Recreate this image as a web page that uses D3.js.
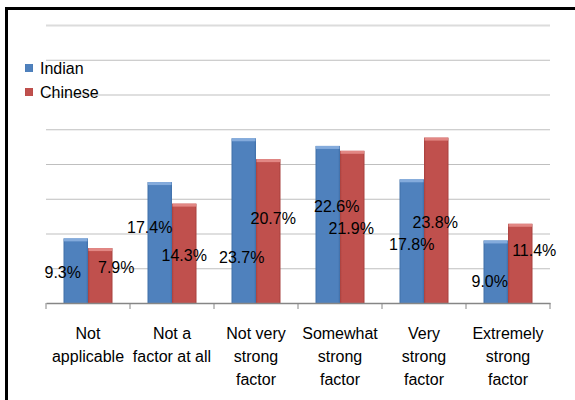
<!DOCTYPE html>
<html>
<head>
<meta charset="utf-8">
<script src="https://cdn.jsdelivr.net/npm/d3@7/dist/d3.min.js"></script>
<style>
  html, body { margin: 0; padding: 0; background: #fff; }
  svg { display: block; }
  text { font-family: "Liberation Sans", Arial, sans-serif; fill: #000; }
</style>
</head>
<body>
<script>
// ---- data ----
const categories = [
  ["Not", "applicable"],
  ["Not a", "factor at all"],
  ["Not very", "strong", "factor"],
  ["Somewhat", "strong", "factor"],
  ["Very", "strong", "factor"],
  ["Extremely", "strong", "factor"]
];
const seriesNames = ["Indian", "Chinese"];
const indianValues = [9.3, 17.4, 23.7, 22.6, 17.8, 9.0];
const chineseValues = [7.9, 14.3, 20.7, 21.9, 23.8, 11.4];
const yTicks = [0, 5, 10, 15, 20, 25, 30, 35, 40];

// ---- layout (label nudges in px, relative to bar centre / bar top) ----
const labelNudge = {
  Indian:  [[-13, 34], [-10, 45], [-2, 119], [9, 60], [0, 65], [-6, 41]],
  Chinese: [[16, 19], [0, 52], [5, 59], [-1, 78], [-1, 85], [14, 27]]
};

const W = 575, H = 400;
const svg = d3.select("body").append("svg").attr("width", W).attr("height", H);

// gradients
const defs = svg.append("defs");
const palette = {
  Indian:  { base: "#4F81BD", dark: "#3F6FA8", light: "#8DB3E2" },
  Chinese: { base: "#C0504D", dark: "#A8403D", light: "#E8908E" }
};
seriesNames.forEach(s => {
  const g = defs.append("linearGradient").attr("id", "g" + s)
    .attr("x1", "0").attr("x2", "1").attr("y1", "0").attr("y2", "0");
  g.append("stop").attr("offset", "0").attr("stop-color", palette[s].dark);
  g.append("stop").attr("offset", "0.08").attr("stop-color", palette[s].base);
  g.append("stop").attr("offset", "0.92").attr("stop-color", palette[s].base);
  g.append("stop").attr("offset", "1").attr("stop-color", palette[s].dark);
});

// frame
svg.append("path")
  .attr("d", `M6.5,${H} V8.5 H${W}`)
  .attr("fill", "none").attr("stroke", "#000").attr("stroke-width", 3);

const plot = { left: 46, right: 550, top: 25, bottom: 303 };

const x0 = d3.scaleBand().domain(d3.range(categories.length))
  .range([plot.left, plot.right]).paddingInner(0).paddingOuter(0);
const groupW = 49;
const x1 = d3.scaleBand().domain(seriesNames)
  .range([(x0.bandwidth() - groupW) / 2, (x0.bandwidth() + groupW) / 2]);
const y = d3.scaleLinear().domain([0, 40]).range([plot.bottom, plot.top]);

// gridlines
const grid = svg.append("g").attr("transform", `translate(${plot.left},0)`)
  .call(d3.axisLeft(y).tickValues(yTicks.slice(1)).tickSize(-(plot.right - plot.left)).tickFormat(""));
grid.select(".domain").remove();
grid.selectAll(".tick line")
  .attr("stroke", d => d === 40 ? "#dcdcdc" : "#bfbfbf")
  .attr("stroke-width", d => d === 40 ? 2 : 1);

// bars
const data = seriesNames.map((s, si) => ({
  name: s, values: si === 0 ? indianValues : chineseValues
}));

data.forEach(series => {
  const g = svg.append("g");
  const bw = x1.bandwidth();
  series.values.forEach((v, i) => {
    const bx = x0(i) + x1(series.name);
    const by = y(v);
    const bh = y(0) - by;
    g.append("rect").attr("x", bx).attr("y", by).attr("width", bw).attr("height", bh)
      .attr("fill", `url(#g${series.name})`);
    g.append("rect").attr("x", bx + 0.5).attr("y", by).attr("width", bw - 1).attr("height", 3)
      .attr("fill", palette[series.name].light).attr("opacity", 0.85);
  });
});

// x axis baseline and boundary ticks
const xAxis = svg.append("g").attr("transform", `translate(0,${plot.bottom})`)
  .call(d3.axisBottom(x0).tickSize(0).tickFormat(""));
xAxis.select(".domain").attr("stroke", "#868686").attr("stroke-width", 1.5);
xAxis.selectAll(".tick").remove();
const bounds = d3.range(categories.length + 1).map(i => plot.left + i * x0.bandwidth());
svg.append("g").selectAll("line").data(bounds).join("line")
  .attr("x1", d => d).attr("x2", d => d)
  .attr("y1", plot.bottom).attr("y2", plot.bottom + 6)
  .attr("stroke", "#868686").attr("stroke-width", 1);

// category labels
const fontSize = 16;
categories.forEach((lines, i) => {
  const t = svg.append("text")
    .attr("x", x0(i) + x0.bandwidth() / 2)
    .attr("text-anchor", "middle")
    .attr("font-size", fontSize);
  lines.forEach((ln, k) => {
    t.append("tspan").attr("x", x0(i) + x0.bandwidth() / 2)
      .attr("y", 333.5 + k * 22.7).attr("dy", "0.35em").text(ln);
  });
});

// data labels
data.forEach(series => {
  series.values.forEach((v, i) => {
    const cx = x0(i) + x1(series.name) + x1.bandwidth() / 2;
    const nd = labelNudge[series.name][i];
    svg.append("text")
      .attr("x", cx + nd[0]).attr("y", y(v) + nd[1])
      .attr("dy", "0.35em").attr("text-anchor", "middle")
      .attr("font-size", fontSize)
      .text(v.toFixed(1) + "%");
  });
});

// legend
const legend = svg.append("g");
seriesNames.forEach((s, i) => {
  const ly = 68 + i * 24;
  legend.append("rect").attr("x", 25).attr("y", ly - 4).attr("width", 8).attr("height", 8)
    .attr("fill", `url(#g${s})`);
  legend.append("text").attr("x", 40).attr("y", ly).attr("dy", "0.35em")
    .attr("font-size", fontSize).text(s);
});
</script>
</body>
</html>
